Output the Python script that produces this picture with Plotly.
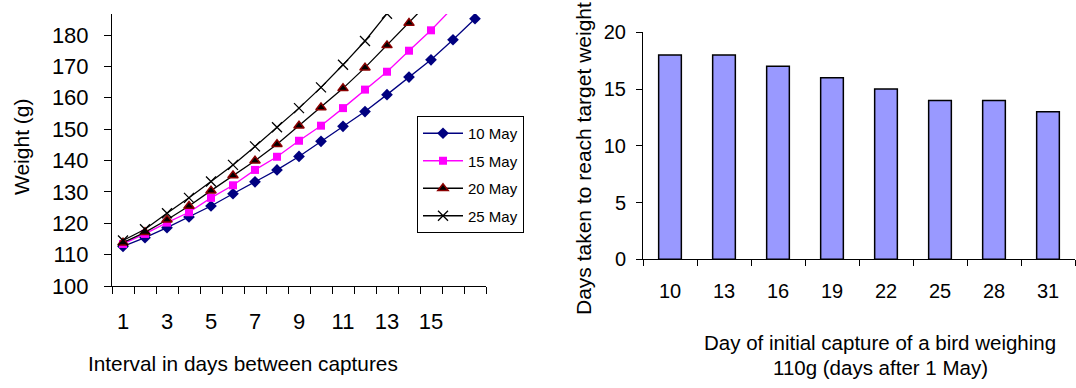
import plotly.graph_objects as go

# ---------------- data ----------------
interval_days = list(range(1, 18))
may10 = [112.6, 115.4, 118.6, 122.0, 125.5, 129.4, 133.2, 137.0, 141.3, 146.1,
         150.9, 155.6, 161.0, 166.6, 172.1, 178.5, 185.2]
may15 = [113.4, 116.6, 120.2, 123.5, 128.1, 132.1, 137.0, 141.2, 146.3, 151.1,
         156.7, 162.6, 168.3, 175.0, 181.5, 188.8]
may20 = [113.8, 117.1, 121.1, 125.5, 130.4, 135.2, 139.9, 145.2, 151.1, 156.9,
         163.0, 169.6, 176.7, 183.8, 191.2]
may25 = [114.5, 118.1, 123.2, 128.1, 133.3, 138.6, 144.5, 150.6, 156.7, 163.3,
         170.5, 178.1, 186.8]
series_names = ["10 May", "15 May", "20 May", "25 May"]
left_tick_labels = [1, 3, 5, 7, 9, 11, 13, 15]

capture_day = ["10", "13", "16", "19", "22", "25", "28", "31"]
days_to_target = [18, 18, 17, 16, 15, 14, 14, 13]

FONT = "Liberation Sans, Arial, sans-serif"
W, H = 1076, 388

fig = go.Figure()

styles = [
    dict(line=dict(color="#000080", width=1.3),
         marker=dict(symbol="diamond", size=9, color="#000080")),
    dict(line=dict(color="#FF00FF", width=1.3),
         marker=dict(symbol="square", size=8, color="#FF00FF")),
    dict(line=dict(color="#000000", width=1.3),
         marker=dict(symbol="triangle-up", size=9, color="#000000",
                     line=dict(color="#8B0000", width=1.5))),
    dict(line=dict(color="#000000", width=1.3),
         marker=dict(symbol="x-thin", size=10, color="#000000",
                     line=dict(color="#000000", width=1.3))),
]
for name, ys, st in zip(series_names, [may10, may15, may20, may25], styles):
    fig.add_trace(go.Scatter(
        x=interval_days[:len(ys)], y=ys, name=name, mode="lines+markers",
        legendgroup=name, xaxis="x", yaxis="y", **st))

fig.add_trace(go.Bar(
    x=list(range(len(capture_day))), y=days_to_target, xaxis="x2", yaxis="y2",
    marker=dict(color="#9999FF", line=dict(color="#000000", width=1.5)),
    showlegend=False, width=0.42))

def px_x(p):
    return p / W

def px_y(p):
    return 1 - p / H

n_left = len(interval_days)
fig.update_layout(
    width=W, height=H,
    margin=dict(l=0, r=0, t=0, b=0, pad=0, autoexpand=False),
    paper_bgcolor="white", plot_bgcolor="white",
    font=dict(family=FONT, color="black"),
    showlegend=True,
    legend=dict(x=px_x(417), y=px_y(116), xanchor="left", yanchor="top",
                bordercolor="black", borderwidth=1, bgcolor="white",
                font=dict(size=15, family=FONT), tracegroupgap=5,
                itemwidth=40),
    xaxis=dict(domain=[px_x(112), px_x(486)], range=[0.5, n_left + 0.5],
               automargin=False,
               tickmode="array", tickvals=left_tick_labels,
               ticktext=[str(v) for v in left_tick_labels],
               ticks="", showgrid=False, zeroline=False,
               showline=True, linecolor="black", linewidth=1,
               tickfont=dict(size=22), ticklabelstandoff=16,
               minor=dict(tickvals=[i + 0.5 for i in range(n_left + 1)],
                          ticks="outside", ticklen=7, tickcolor="black",
                          tickwidth=1, showgrid=False)),
    yaxis=dict(domain=[px_y(286), px_y(14)], range=[100, 186.7],
               automargin=False,
               tickmode="linear", tick0=100, dtick=10,
               ticks="outside", ticklen=7, tickcolor="black",
               showgrid=False, zeroline=False,
               showline=True, linecolor="black", linewidth=1,
               tickfont=dict(size=22), ticklabelstandoff=11,
               ),
    xaxis2=dict(domain=[px_x(643), px_x(1075)], range=[-0.5, len(capture_day) - 0.5],
                automargin=False,
                tickmode="array", tickvals=list(range(len(capture_day))),
                ticktext=capture_day, ticks="",
                showgrid=False, zeroline=False,
                showline=True, linecolor="black", linewidth=1,
                tickfont=dict(size=20), ticklabelstandoff=14,
                anchor="y2",
                minor=dict(tickvals=[i - 0.5 for i in range(len(capture_day) + 1)],
                           ticks="outside", ticklen=6, tickcolor="black",
                           tickwidth=1, showgrid=False)),
    yaxis2=dict(domain=[px_y(259.3), px_y(32.3)], range=[0, 20],
                automargin=False,
                tickmode="linear", tick0=0, dtick=5,
                ticks="outside", ticklen=6, tickcolor="black",
                showgrid=False, zeroline=False,
                showline=True, linecolor="black", linewidth=1,
                tickfont=dict(size=20), ticklabelstandoff=6,
                anchor="x2"),
)

annots = [
    dict(text="Weight (g)", x=px_x(21), y=px_y(147), textangle=-90, size=21),
    dict(text="Interval in days between captures", x=px_x(243), y=px_y(363), textangle=0, size=20.8),
    dict(text="Days taken to reach target weight", x=px_x(583), y=px_y(159), textangle=-90, size=21),
    dict(text="Day of initial capture of a bird weighing", x=px_x(880), y=px_y(342), textangle=0, size=20.5),
    dict(text="110g (days after 1 May)", x=px_x(880), y=px_y(367), textangle=0, size=20.5),
]
for a in annots:
    fig.add_annotation(text=a["text"], x=a["x"], y=a["y"], xref="paper", yref="paper",
                       xanchor="center", yanchor="middle", showarrow=False,
                       textangle=a["textangle"], font=dict(size=a["size"], family=FONT, color="black"))

fig.write_html("out.html")
